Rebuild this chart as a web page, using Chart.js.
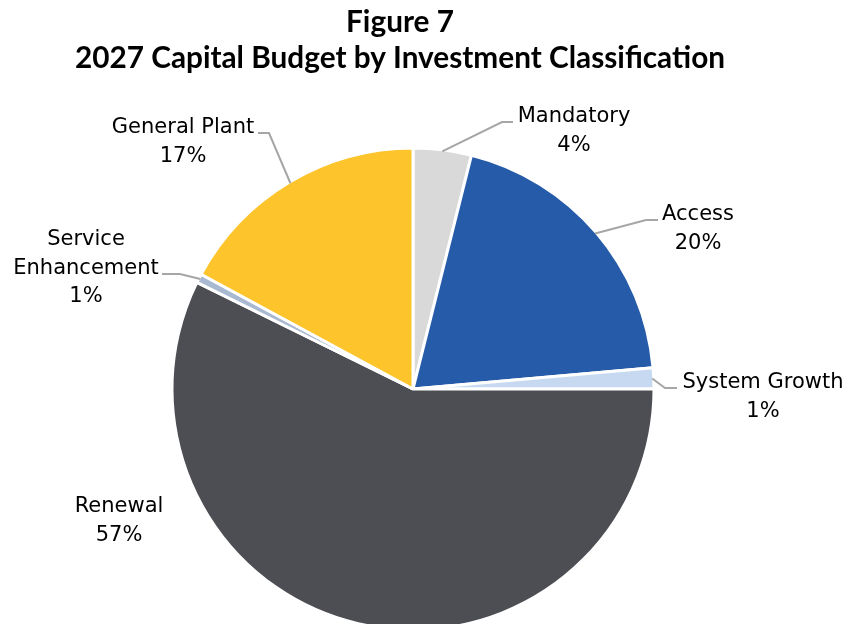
<!DOCTYPE html>
<html>
<head>
<meta charset="utf-8">
<script src="https://cdn.jsdelivr.net/npm/chart.js@4/dist/chart.umd.min.js"></script>
<style>
  html, body { margin: 0; padding: 0; background: #ffffff; overflow: hidden; width: 847px; height: 624px; }
  #wrap { position: absolute; left: 0; top: 0; width: 847px; height: 660px; }
</style>
</head>
<body>
<div id="wrap"><canvas id="chart" width="847" height="660"></canvas></div>
<script>
// 2027 capital budget shares by investment classification (percent)
const categories = ['Mandatory', 'Access', 'System Growth', 'Renewal', 'Service Enhancement', 'General Plant'];
const shares = [3.9, 19.7, 1.4, 57.3, 0.6, 17.1];
const titleLines = ['Figure 7', '2027 Capital Budget by Investment Classification'];

// Label text lines for each slice (category name split across lines)
const labelLines = [
  ['Mandatory'],
  ['Access'],
  ['System Growth'],
  ['Renewal'],
  ['Service', 'Enhancement'],
  ['General Plant']
];

// Label placement: text centre x, first baseline y, leader elbow and end points
const labelLayout = [
  { x: 574, y: 122, leader: [[502, 122], [513, 122]] },
  { x: 698, y: 220, leader: [[646, 220], [658, 220]] },
  { x: 763, y: 388, leader: [[665, 388], [677, 388]] },
  { x: 119, y: 512, leader: null },
  { x: 86,  y: 245, leader: [[180, 274], [162, 274]] },
  { x: 183, y: 133, leader: [[269, 133], [258, 133]] }
];

const sliceColors = ['#D9D9D9', '#255BA8', '#C6D9F1', '#4D4E53', '#A9B9D2', '#FDC42C'];

const total = shares.reduce((a, b) => a + b, 0);
const pctText = v => Math.round(v / total * 100) + '%';

const annotate = {
  id: 'annotate',
  afterDraw(chart) {
    const ctx = chart.ctx;
    ctx.save();

    // Title
    ctx.fillStyle = '#000000';
    ctx.textAlign = 'center';
    ctx.textBaseline = 'alphabetic';
    let size = 28;
    ctx.font = 'bold ' + size + 'px Lato';
    const w = ctx.measureText(titleLines[1]).width;
    size = size * 650 / w;
    ctx.font = 'bold ' + size.toFixed(2) + 'px Lato';
    ctx.fillText(titleLines[0], 400, 32);
    ctx.fillText(titleLines[1], 400, 68);

    // Leader lines from the slice edge at its mid angle
    const meta = chart.getDatasetMeta(0);
    ctx.strokeStyle = '#A6A6A6';
    ctx.lineWidth = 2;
    meta.data.forEach((arc, i) => {
      const lay = labelLayout[i];
      if (!lay.leader) return;
      const p = arc.getProps(['x', 'y', 'startAngle', 'endAngle', 'outerRadius'], true);
      const mid = (p.startAngle + p.endAngle) / 2;
      const r = p.outerRadius - 1.5;
      const sx = p.x + Math.cos(mid) * r;
      const sy = p.y + Math.sin(mid) * r;
      ctx.beginPath();
      ctx.moveTo(sx, sy);
      lay.leader.forEach(pt => ctx.lineTo(pt[0], pt[1]));
      ctx.stroke();
    });

    // Category names and percentages
    ctx.fillStyle = '#000000';
    ctx.font = '21px "DejaVu Sans"';
    ctx.textAlign = 'center';
    const lh = 28.5;
    shares.forEach((v, i) => {
      const lay = labelLayout[i];
      const lines = labelLines[i].concat([pctText(v)]);
      lines.forEach((t, k) => ctx.fillText(t, lay.x, lay.y + k * lh));
    });

    ctx.restore();
  }
};

new Chart(document.getElementById('chart'), {
  type: 'pie',
  data: {
    labels: categories,
    datasets: [{
      data: shares,
      backgroundColor: sliceColors,
      borderColor: '#FFFFFF',
      borderWidth: 3,
      radius: 241
    }]
  },
  options: {
    responsive: false,
    animation: false,
    layout: { padding: { top: 149, bottom: 31, left: 173, right: 194 } },
    plugins: {
      legend: { display: false },
      tooltip: { enabled: false },
      title: { display: false }
    }
  },
  plugins: [annotate]
});
</script>
</body>
</html>
